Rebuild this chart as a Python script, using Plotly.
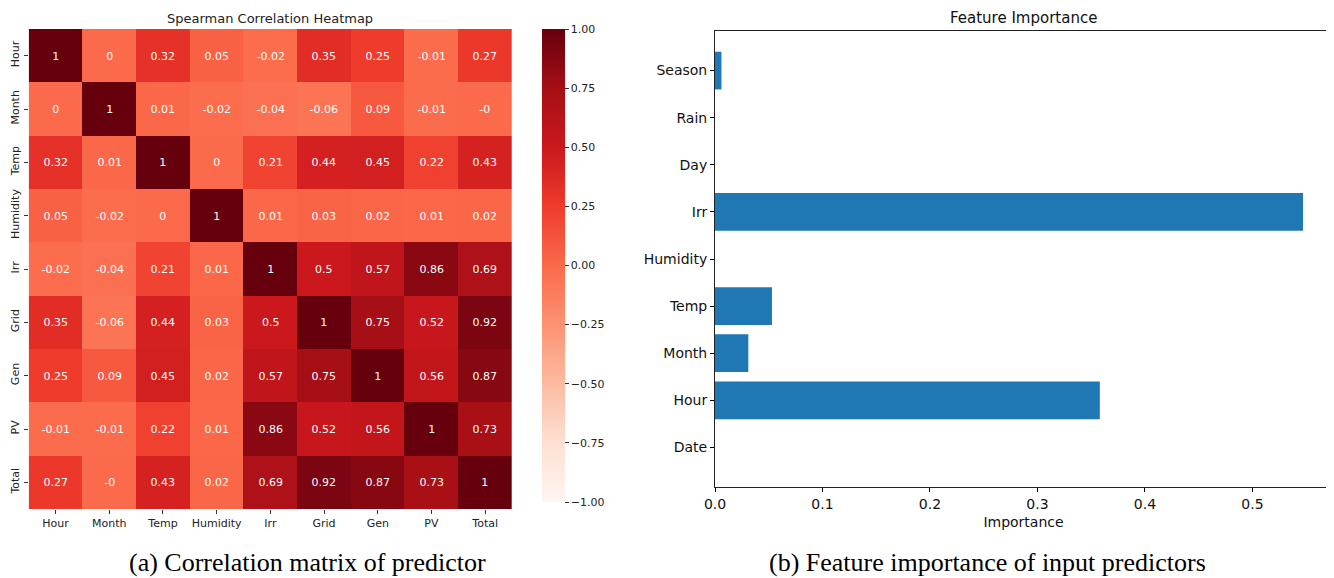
import plotly.graph_objects as go
import plotly.express as px

# ---- Data ----
corr_labels = ["Hour", "Month", "Temp", "Humidity", "Irr", "Grid", "Gen", "PV", "Total"]
corr_hour = [1, 0, 0.32, 0.05, -0.02, 0.35, 0.25, -0.01, 0.27]
corr_month = [0, 1, 0.01, -0.02, -0.04, -0.06, 0.09, -0.01, -0.0]
corr_temp = [0.32, 0.01, 1, 0, 0.21, 0.44, 0.45, 0.22, 0.43]
corr_humidity = [0.05, -0.02, 0, 1, 0.01, 0.03, 0.02, 0.01, 0.02]
corr_irr = [-0.02, -0.04, 0.21, 0.01, 1, 0.5, 0.57, 0.86, 0.69]
corr_grid = [0.35, -0.06, 0.44, 0.03, 0.5, 1, 0.75, 0.52, 0.92]
corr_gen = [0.25, 0.09, 0.45, 0.02, 0.57, 0.75, 1, 0.56, 0.87]
corr_pv = [-0.01, -0.01, 0.22, 0.01, 0.86, 0.52, 0.56, 1, 0.73]
corr_total = [0.27, -0.0, 0.43, 0.02, 0.69, 0.92, 0.87, 0.73, 1]

fi_features = ["Date", "Hour", "Month", "Temp", "Humidity", "Irr", "Day", "Rain", "Season"]
fi_values = [0.0, 0.358, 0.031, 0.053, 0.0, 0.547, 0.0, 0.0, 0.006]

cbar_ticks = [1.0, 0.75, 0.5, 0.25, 0.0, -0.25, -0.5, -0.75, -1.0]
fi_ticks = [0.0, 0.1, 0.2, 0.3, 0.4, 0.5]

# ---- Build ----
z = [corr_hour, corr_month, corr_temp, corr_humidity, corr_irr,
     corr_grid, corr_gen, corr_pv, corr_total]
text = [[f"{float(v):g}" for v in row] for row in z]

W, H = 1334, 578
OFF = 8  # page body margin offset
def px_x(v): return (v - OFF) / W
def px_y(v): return 1 - (v - OFF) / H

fig = go.Figure()

fig.add_trace(go.Heatmap(
    z=z, x=corr_labels, y=corr_labels,
    text=text, texttemplate="%{text}",
    textfont=dict(color="white", size=11, family="DejaVu Sans"),
    colorscale=px.colors.sequential.Reds, zmin=-1, zmax=1,
    xgap=0, ygap=0,
    colorbar=dict(
        x=px_x(542), xanchor="left", xref="paper",
        y=px_y(265.5), yanchor="middle",
        len=(502 - 29) / H, lenmode="fraction",
        thickness=23, thicknessmode="pixels",
        outlinewidth=0, xpad=0, ypad=0,
        tickvals=cbar_ticks,
        ticktext=[f"{t:.2f}".replace("-", "\u2212") for t in cbar_ticks],
        ticks="outside", ticklen=4, tickcolor="#333",
        tickfont=dict(size=11, family="DejaVu Sans", color="#222"),
    ),
    xaxis="x", yaxis="y",
))

fig.add_trace(go.Bar(
    x=fi_values, y=fi_features, orientation="h",
    marker=dict(color="#1f77b4", line=dict(width=0)),
    width=0.8, xaxis="x2", yaxis="y2", showlegend=False,
))

fig.update_layout(
    width=W, height=H,
    margin=dict(l=0, r=0, t=0, b=0),
    paper_bgcolor="white", plot_bgcolor="white",
    showlegend=False,
    xaxis=dict(
        domain=[px_x(28.7), px_x(512)], anchor="y", automargin=False,
        ticks="outside", ticklen=4, tickcolor="#333",
        tickfont=dict(size=11, family="DejaVu Sans", color="#222"),
        showgrid=False, zeroline=False, showline=False,
    ),
    yaxis=dict(
        domain=[px_y(509), px_y(29)], anchor="x", automargin=False,
        autorange="reversed",
        ticks="outside", ticklen=4, tickcolor="#333", tickangle=-90,
        tickfont=dict(size=11, family="DejaVu Sans", color="#222"),
        showgrid=False, zeroline=False, showline=False,
    ),
    xaxis2=dict(
        domain=[px_x(715), px_x(1332)], anchor="y2", automargin=False,
        range=[0, 0.574],
        tickvals=fi_ticks, ticktext=[f"{t:.1f}" for t in fi_ticks],
        ticks="outside", ticklen=4, tickcolor="#000",
        tickfont=dict(size=14, family="DejaVu Sans", color="#111"),
        showgrid=False, zeroline=False,
        showline=True, linecolor="#222", linewidth=1, mirror=True,
        title=dict(text="Importance", font=dict(size=14, family="DejaVu Sans", color="#111"), standoff=6),
    ),
    yaxis2=dict(
        domain=[px_y(487), px_y(31)], anchor="x2", automargin=False,
        range=[-0.84, 8.84],
        ticks="outside", ticklen=4, tickcolor="#000",
        tickfont=dict(size=14, family="DejaVu Sans", color="#111"),
        showgrid=False, zeroline=False,
        showline=True, linecolor="#222", linewidth=1, mirror=True,
    ),
    annotations=[
        dict(text="Spearman Correlation Heatmap", x=px_x(270), y=px_y(19),
             xref="paper", yref="paper", showarrow=False, xanchor="center", yanchor="middle",
             font=dict(size=13, family="DejaVu Sans", color="#222")),
        dict(text="Feature Importance", x=px_x(1023), y=px_y(18),
             xref="paper", yref="paper", showarrow=False, xanchor="center", yanchor="middle",
             font=dict(size=15, family="DejaVu Sans", color="#111")),
        dict(text="(a) Correlation matrix of predictor", x=px_x(307), y=px_y(562),
             xref="paper", yref="paper", showarrow=False, xanchor="center", yanchor="middle",
             font=dict(size=26, family="Liberation Serif", color="#000")),
        dict(text="(b) Feature importance of input predictors", x=px_x(987), y=px_y(562),
             xref="paper", yref="paper", showarrow=False, xanchor="center", yanchor="middle",
             font=dict(size=26, family="Liberation Serif", color="#000")),
    ],
)

fig.write_html("out.html")
